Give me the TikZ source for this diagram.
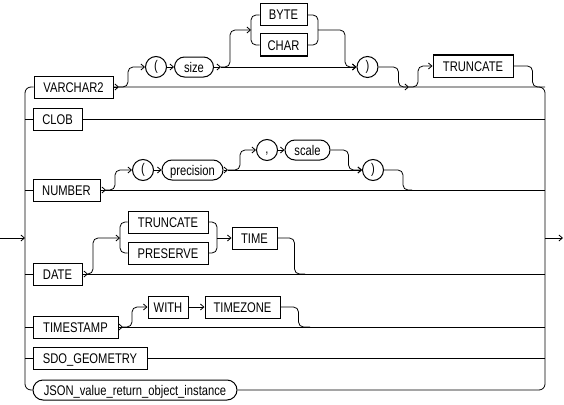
\documentclass[tikz,border=0pt]{standalone}
\usepackage{fontspec}
\setmainfont{Liberation Sans}[FakeStretch=0.8]
\usetikzlibrary{arrows.meta}
\begin{document}
\begin{tikzpicture}[x=1pt,y=-1pt,
  line width=0.8pt,
  kw/.style={draw, line width=1pt, minimum height=22pt, inner xsep=2pt, inner ysep=0pt,
             text height=10pt, text depth=0pt, font=\fontsize{14}{16}\selectfont},
  var/.style={kw, rounded corners=10pt, minimum height=20pt},
  sym/.style={draw, circle, line width=1pt, minimum size=21pt, inner sep=0pt,
              text height=10pt, text depth=2.6pt, font=\fontsize{14}{16}\selectfont},
  arr/.style={-{Straight Barb[length=3.5pt,width=6pt]}},
  rc/.style={rounded corners=5pt}]
\useasboundingbox (0,0) rectangle (564,404);

% nodes
\node[kw, minimum width=79pt] (VARCHAR2) at (73.5,87) {VARCHAR2};
\node[sym] (lp1) at (156,67) {(};
\node[var, minimum width=39pt] (size) at (194,67) {size};
\node[kw, minimum width=47pt] (BYTE) at (283.5,15) {BYTE};
\node[kw, minimum width=47pt] (CHAR) at (283.5,45) {CHAR};
\node[sym] (rp1) at (367.5,67) {)};
\node[kw, minimum width=80pt] (T1) at (473,66) {TRUNCATE};

\node[kw, minimum width=49pt] (CLOB) at (57.5,119) {CLOB};

\node[kw, minimum width=67pt] (NUMBER) at (66.5,190) {NUMBER};
\node[sym] (lp2) at (143,170) {(};
\node[var, minimum width=61pt] (precision) at (192.5,170) {precision};
\node[sym] (comma) at (267,150) {,};
\node[var, minimum width=45pt] (scale) at (307.5,150) {scale};
\node[sym] (rp2) at (373,170) {)};

\node[kw, minimum width=49pt] (DATE) at (57.5,274) {DATE};
\node[kw, minimum width=80pt] (T2) at (168,222) {TRUNCATE};
\node[kw, minimum width=80pt] (PR) at (168,253) {PRESERVE};
\node[kw, minimum width=45pt] (TIME) at (254.5,238) {TIME};

\node[kw, minimum width=85pt] (TIMESTAMP) at (75.5,327) {TIMESTAMP};
\node[kw, minimum width=40pt] (WITH) at (168,307) {WITH};
\node[kw, minimum width=75pt] (TIMEZONE) at (242.5,307) {TIMEZONE};

\node[kw, minimum width=114pt] (SDO) at (90,358) {SDO\_GEOMETRY};
\node[var, minimum width=204pt] (JSON) at (135,390) {JSON\_value\_return\_object\_instance};

% rails
\coordinate (in) at (0,238);
\coordinate (out) at (563,238);
\coordinate (L) at (25,238);
\coordinate (R) at (545,238);
\draw[arr] (in) -- (L);
\draw[arr] (R) -- (out);
\draw[rounded corners=6pt] (VARCHAR2.west) -| (L) |- (JSON.west);
\draw[rounded corners=6pt] (VARCHAR2.east) -| (R) |- (JSON.east);

\foreach \n in {CLOB,NUMBER,DATE,TIMESTAMP,SDO}{
  \draw (L |- \n.west) -- (\n.west);
  \draw (\n.east) -- (R |- \n.east);
}

% row VARCHAR2
\coordinate (j1) at (119,87);
\draw[arr] (VARCHAR2.east) -- (j1);
\draw[rc,arr] (j1) -- ++(9,0) |- (lp1.west);
\draw[arr] (lp1.east) -- (size.west);
\coordinate (j2) at (221,67);
\draw[arr] (size.east) -- (j2);
\draw[arr] (j2) -- (rp1.west);
\coordinate (fk1) at (251,30);
\draw[rc,arr] (j2) -- ++(9,0) |- (fk1);
\draw[rc] (fk1) |- (BYTE.west);
\draw[rc] (fk1) |- (CHAR.west);
\coordinate (mg1) at (318,30);
\draw[rc] (BYTE.east) -| (mg1);
\draw[rc] (CHAR.east) -| (mg1);
\draw[rc,arr] (mg1) -- ++(27,0) |- (rp1.west);
\coordinate (j3) at (409,87);
\draw[rc,arr] (rp1.east) -- ++(20,0) |- (j3);
\draw[rc,arr] (j3) -- ++(9,0) |- (T1.west);
\draw[rc] (T1.east) -- ++(19,0) |- (R |- j3);

% row NUMBER
\coordinate (j4) at (106,190);
\draw[arr] (NUMBER.east) -- (j4);
\draw[rc,arr] (j4) -- ++(9,0) |- (lp2.west);
\draw[arr] (lp2.east) -- (precision.west);
\coordinate (j5) at (228,170);
\draw[arr] (precision.east) -- (j5);
\draw[arr] (j5) -- (rp2.west);
\draw[rc,arr] (j5) -- ++(12,0) |- (comma.west);
\draw[arr] (comma.east) -- (scale.west);
\draw[rc,arr] (scale.east) -- ++(18,0) |- (rp2.west);
\coordinate (j6) at (412,190);
\draw[rc] (rp2.east) -- ++(19,0) |- (j6);

% row DATE
\coordinate (j7) at (88,274);
\draw[arr] (DATE.east) -- (j7);
\coordinate (fk2) at (120,238);
\draw[rc,arr] (j7) -- ++(5,0) |- (fk2);
\draw[rc] (fk2) |- (T2.west);
\draw[rc] (fk2) |- (PR.west);
\coordinate (mg2) at (217,238);
\draw[rc] (T2.east) -| (mg2);
\draw[rc] (PR.east) -| (mg2);
\draw[arr] (mg2) -- (TIME.west);
\coordinate (j8) at (305,274);
\draw[rc] (TIME.east) -- ++(17,0) |- (j8);

% row TIMESTAMP
\coordinate (j9) at (123,327);
\draw[arr] (TIMESTAMP.east) -- (j9);
\draw[rc,arr] (j9) -- ++(9,0) |- (WITH.west);
\draw[arr] (WITH.east) -- (TIMEZONE.west);
\coordinate (j10) at (310,327);
\draw[rc] (TIMEZONE.east) -- ++(18,0) |- (j10);
\end{tikzpicture}
\end{document}
